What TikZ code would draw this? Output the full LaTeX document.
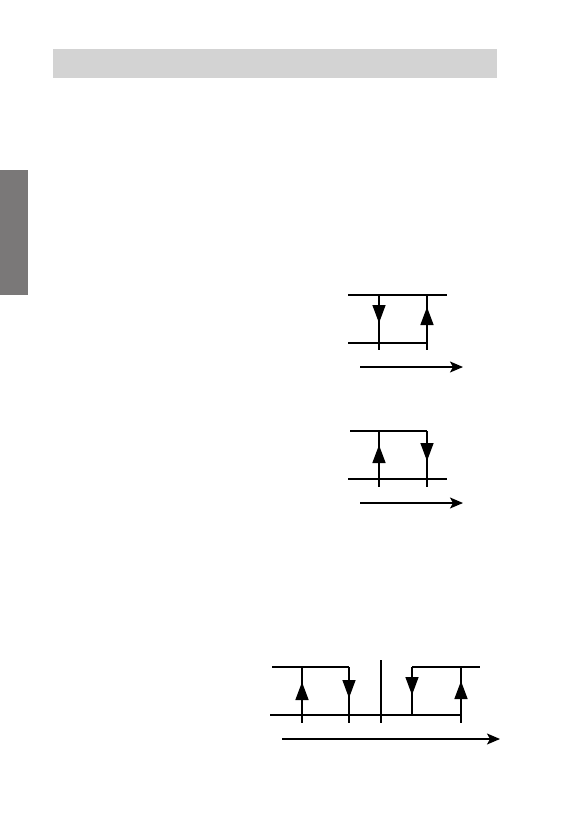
\documentclass[tikz,border=0pt]{standalone}
\usetikzlibrary{arrows.meta}
\definecolor{barGray}{HTML}{D3D3D3}
\definecolor{tabGray}{HTML}{7A7878}
\tikzset{
  wave/.style={line width=0.75pt},
  thickwave/.style={line width=1.3pt},
  flow/.style={-{Triangle[length=9pt,width=6.5pt]}, line width=0.75pt},
  timeaxis/.style={-{Stealth[length=6.5pt,width=5.5pt,inset=1.5pt]}, line width=0.75pt}
}
\begin{document}
\begin{tikzpicture}[x=0.5pt, y=-0.5pt]
    \useasboundingbox (0,0) rectangle (561,816);
    \fill [barGray] (52.5,49) rectangle (497,78);
    \fill [tabGray] (0,170) rectangle (28,295);
    % first diagram
        \node (0) at (348, 295) {};
        \node (1) at (447, 295) {};
        \node (2) at (379, 295) {};
        \node (3) at (379, 350) {};
        \node (4) at (427, 295) {};
        \node (5) at (427, 350) {};
        \node (6) at (348, 343) {};
        \node (7) at (360, 343) {};
        \node (8) at (427, 343) {};
        \node (9) at (360, 367) {};
        \node (10) at (463, 367) {};
        \draw [wave] (0.center) to (1.center);
        \draw [wave] (2.center) to (3.center);
        \draw [wave] (4.center) to (5.center);
        \draw [wave] (6.center) to (7.center);
        \draw [thickwave] (7.center) to (8.center);
        \draw [flow] (379,305) -- (379,323);
        \draw [flow] (427,325) -- (427,307);
        \draw [timeaxis] (9.center) to (10.center);
    % second diagram
        \node (11) at (350, 431) {};
        \node (12) at (427, 431) {};
        \node (13) at (379, 431) {};
        \node (14) at (379, 487) {};
        \node (15) at (427, 487) {};
        \node (16) at (348, 479) {};
        \node (17) at (447, 479) {};
        \node (18) at (360, 503) {};
        \node (19) at (463, 503) {};
        \draw [wave] (11.center) to (12.center);
        \draw [wave] (13.center) to (14.center);
        \draw [wave] (12.center) to (15.center);
        \draw [wave] (16.center) to (17.center);
        \draw [flow] (379,463) -- (379,445);
        \draw [flow] (427,443) -- (427,461);
        \draw [timeaxis] (18.center) to (19.center);
    % third diagram
        \node (20) at (272, 667) {};
        \node (21) at (349, 667) {};
        \node (22) at (302, 667) {};
        \node (23) at (302, 723) {};
        \node (24) at (349, 723) {};
        \node (25) at (381, 660) {};
        \node (26) at (381, 723) {};
        \node (27) at (270, 715) {};
        \node (28) at (462, 715) {};
        \node (29) at (412, 667) {};
        \node (30) at (480, 667) {};
        \node (31) at (412, 715) {};
        \node (32) at (461, 667) {};
        \node (33) at (461, 723) {};
        \node (34) at (282, 739) {};
        \node (35) at (500, 739) {};
        \draw [wave] (20.center) to (21.center);
        \draw [wave] (22.center) to (23.center);
        \draw [wave] (21.center) to (24.center);
        \draw [wave] (25.center) to (26.center);
        \draw [wave] (27.center) to (28.center);
        \draw [wave] (29.center) to (30.center);
        \draw [wave] (29.center) to (31.center);
        \draw [wave] (32.center) to (33.center);
        \draw [flow] (302,699) -- (302,682);
        \draw [flow] (349,681) -- (349,698);
        \draw [flow] (412,677) -- (412,695);
        \draw [flow] (461,698) -- (461,681);
        \draw [timeaxis] (34.center) to (35.center);
\end{tikzpicture}
\end{document}
